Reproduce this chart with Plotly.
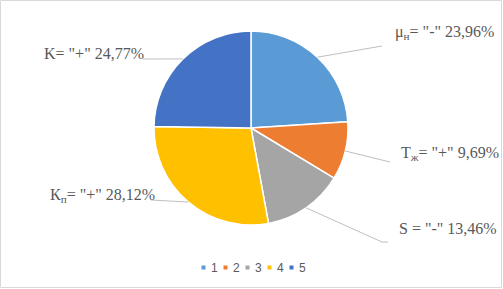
import math
import plotly.graph_objects as go

# ---- data ----
categories = ["1", "2", "3", "4", "5"]
values = [23.96, 9.69, 13.46, 28.12, 24.77]
label_texts = [
    'μ<sub>н</sub>= "-" 23,96%',
    'Т<sub>ж</sub>= "+" 9,69%',
    'S = "-" 13,46%',
    'К<sub>п</sub>= "+" 28,12%',
    'K= "+" 24,77%',
]
colors = ["#5B9BD5", "#ED7D31", "#A5A5A5", "#FFC000", "#4472C4"]

# ---- layout constants (pixels) ----
W, H = 503, 289
CX, CY, R = 251, 128, 97

def px(x):
    return x / W

def py(y):
    return 1 - y / H

# label anchor (left x, middle y) and leader-line end points
label_pos = [(393, 33), (399, 153), (397, 228), (48, 195), (42, 53)]
leader_end = [[(382, 46)], [(390, 162)], [(382, 242), (388, 242)], [(151, 200)], [(143, 59)]]

fig = go.Figure()
fig.add_trace(go.Pie(
    labels=categories,
    values=values,
    sort=False,
    direction="clockwise",
    rotation=0,
    marker=dict(colors=colors, line=dict(color="white", width=1.5)),
    textinfo="none",
    hoverinfo="label+percent",
    showlegend=False,
    domain=dict(x=[px(CX - R), px(CX + R)], y=[py(CY + R), py(CY - R)]),
))

shapes = []
annotations = []
total = sum(values)
cum = 0.0
for i, v in enumerate(values):
    mid = (cum + v / 2) / total * 2 * math.pi
    cum += v
    sx = CX + R * math.sin(mid)
    sy = CY - R * math.cos(mid)
    pts = [(sx, sy)] + leader_end[i]
    for (x0, y0), (x1, y1) in zip(pts[:-1], pts[1:]):
        shapes.append(dict(type="line", xref="paper", yref="paper",
                           x0=px(x0), y0=py(y0), x1=px(x1), y1=py(y1),
                           line=dict(color="#BFBFBF", width=1)))
    lx, ly = label_pos[i]
    annotations.append(dict(
        x=px(lx), y=py(ly), xref="paper", yref="paper",
        xanchor="left", yanchor="middle", showarrow=False,
        text=label_texts[i],
        font=dict(family="Times New Roman, Liberation Serif, serif", size=16, color="#595959"),
    ))

# custom legend (swatch + label per category)
for i, c in enumerate(categories):
    sx0 = 201.5 + i * 22
    shapes.append(dict(type="rect", xref="paper", yref="paper",
                       x0=px(sx0), x1=px(sx0 + 4), y0=py(269.5), y1=py(265.5),
                       fillcolor=colors[i], line=dict(width=0)))
    annotations.append(dict(
        x=px(sx0 + 7), y=py(267.5), xref="paper", yref="paper",
        xanchor="left", yanchor="middle", showarrow=False,
        text=c,
        font=dict(family="Liberation Sans, Arial, sans-serif", size=12, color="#595959"),
    ))

# chart border
shapes.append(dict(type="rect", xref="paper", yref="paper",
                   x0=px(0.5), y0=py(287.5), x1=px(501.5), y1=py(0.5),
                   line=dict(color="#D9D9D9", width=1)))

fig.update_layout(
    width=W, height=H,
    margin=dict(l=0, r=0, t=0, b=0),
    paper_bgcolor="white", plot_bgcolor="white",
    shapes=shapes, annotations=annotations,
)

fig.write_html("out.html")
